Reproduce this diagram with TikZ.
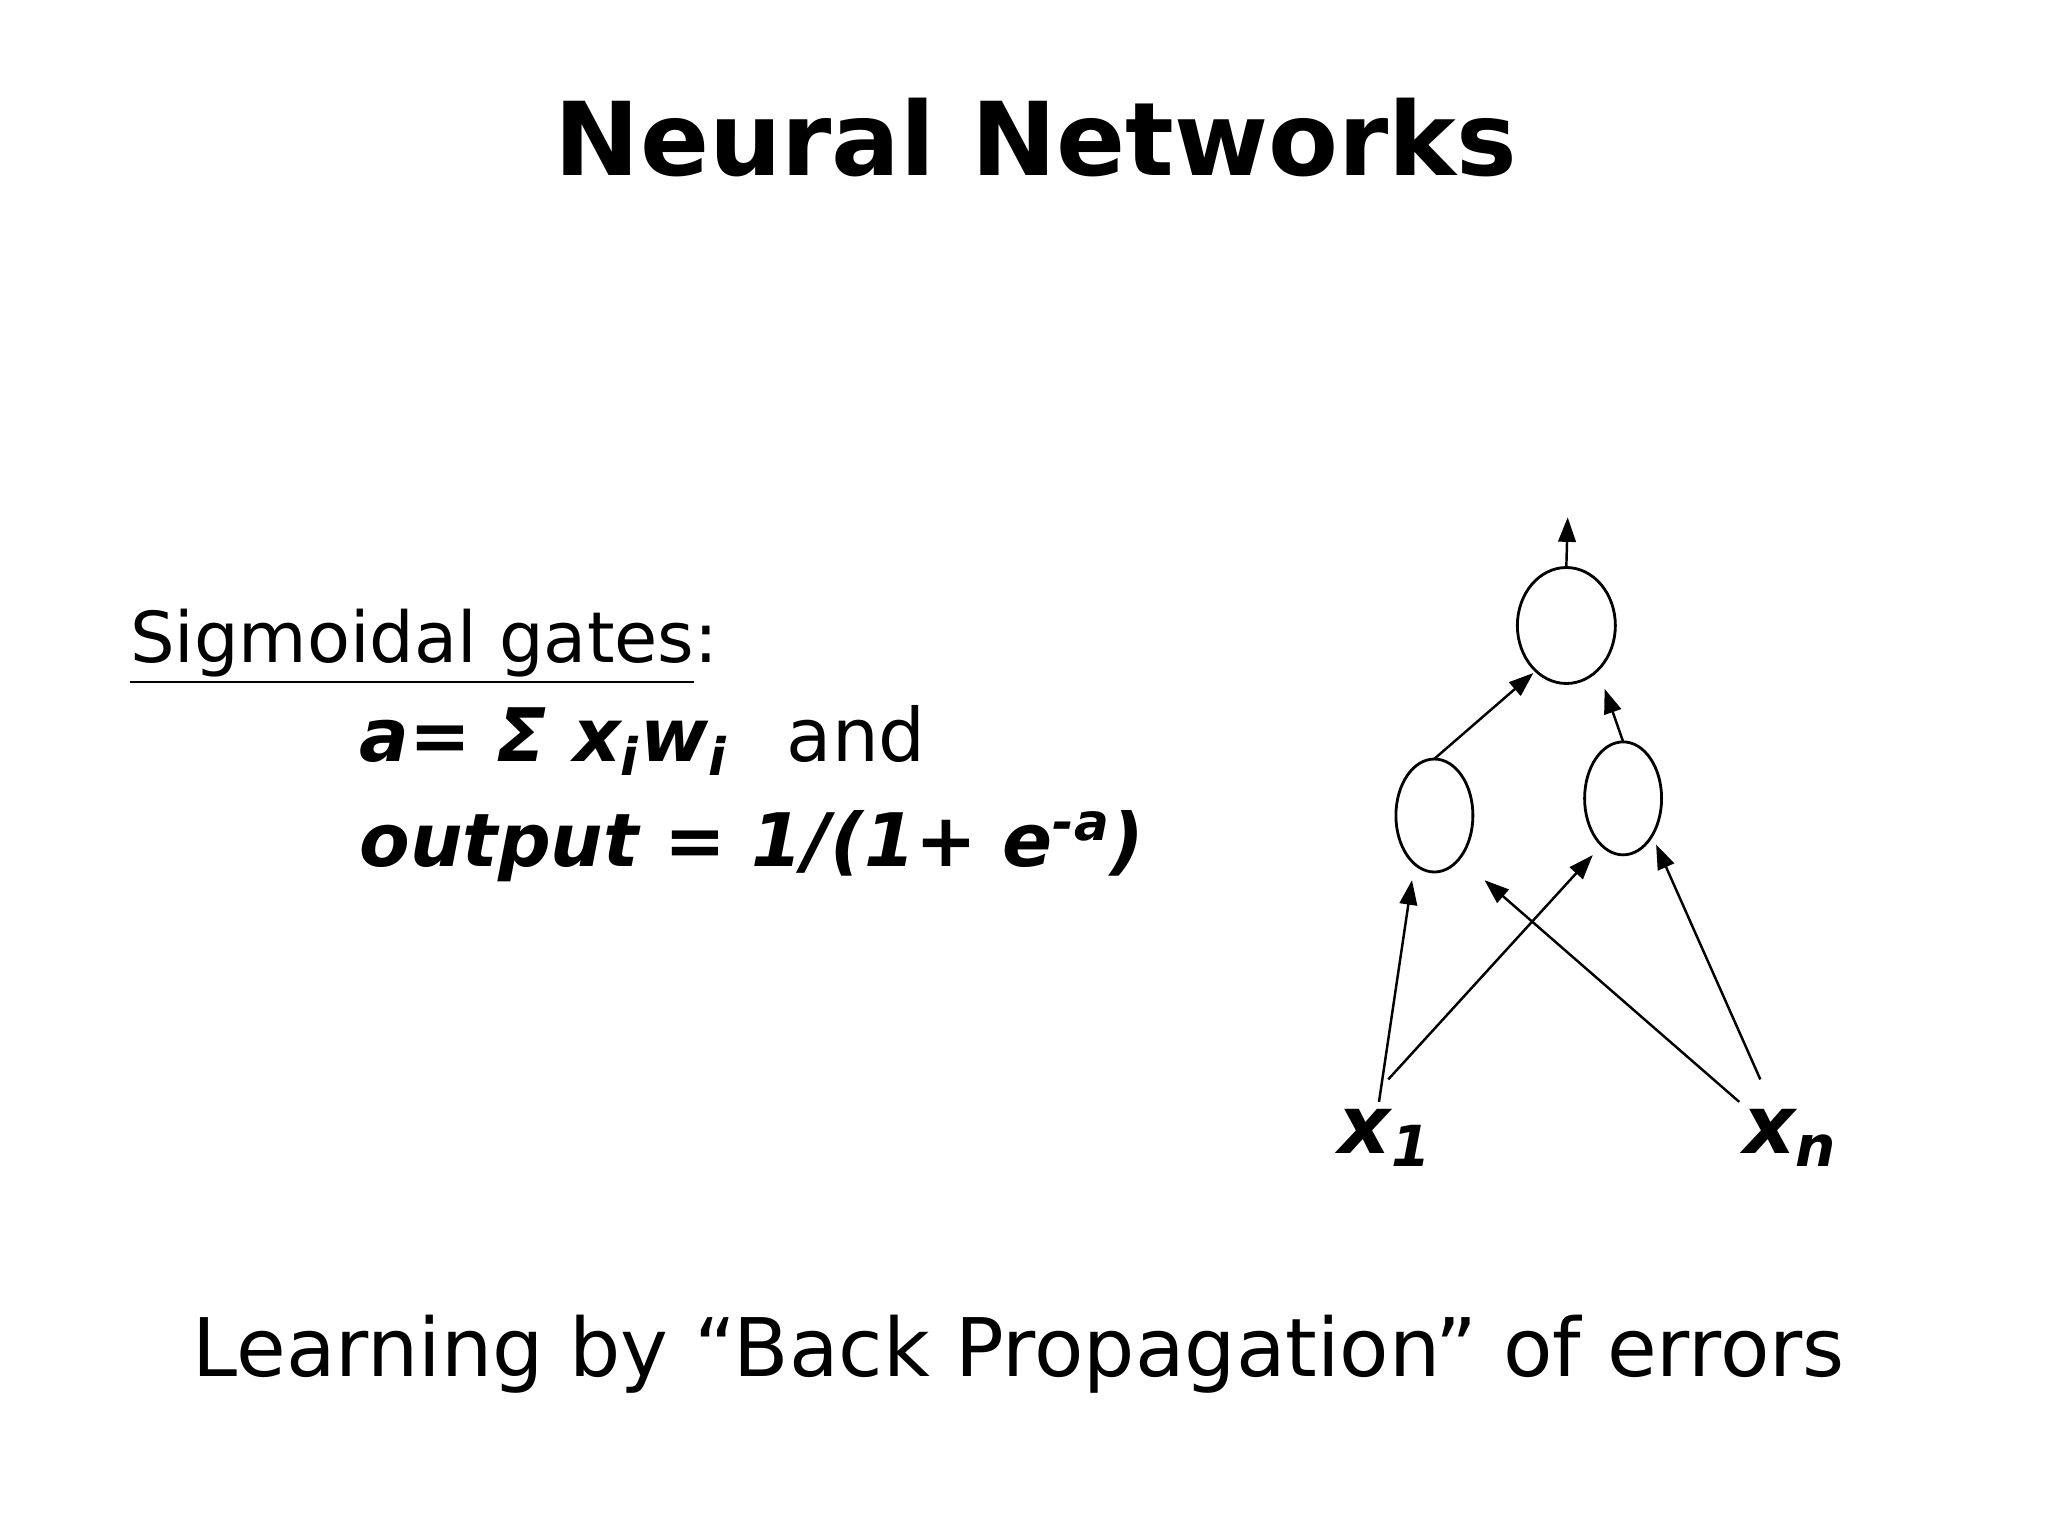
\documentclass[tikz,border=0pt]{standalone}
\usepackage{fontspec}
\setmainfont{DejaVu Sans}
\usetikzlibrary{arrows.meta,shapes.geometric}
\begin{document}
\begin{tikzpicture}[x=0.0132cm,y=-0.0132cm,
  neuron/.style={draw,ellipse,line width=0.8pt,inner sep=0pt},
  conn/.style={-{Triangle[length=7pt,width=5pt]},line width=0.7pt},
  txt/.style={inner sep=0pt}]
\useasboundingbox (0,0) rectangle (1552,1164);
\node[txt,anchor=base,font=\fontsize{29}{34}\selectfont\bfseries] (title) at (785,133) {Neural Networks};
\node[txt,anchor=base west,font=\fontsize{20}{24}\selectfont] (sig) at (98,502) {\underline{Sigmoidal gates}:};
\node[txt,anchor=base west,font=\fontsize{21}{25}\selectfont] (eq1) at (272,577) {\textbf{\textit{a= Σ x\textsubscript{i}w\textsubscript{i}}}\hspace{0.8em}and};
\node[txt,anchor=base west,font=\fontsize{21}{25}\selectfont] (eq2) at (272,657) {\textbf{\textit{output = 1/(1+ e\textsuperscript{-a})}}};
\node[txt,anchor=base,font=\fontsize{23}{28}\selectfont] (learn) at (772,1043) {Learning by “Back Propagation” of errors};
\node[neuron,minimum width=0.98cm,minimum height=1.16cm] (top) at (1187,474) {};
\node[neuron,minimum width=0.77cm,minimum height=1.13cm] (left) at (1087,618) {};
\node[neuron,minimum width=0.77cm,minimum height=1.13cm] (right) at (1230,605) {};
\node[txt,font=\fontsize{23}{28}\selectfont\bfseries\itshape] (x1) at (1050,862) {x\textsubscript{1}};
\node[txt,font=\fontsize{23}{28}\selectfont\bfseries\itshape] (xn) at (1357,862) {x\textsubscript{n}};
\coordinate (out) at (1188,392);
\coordinate (a1) at (1045,835); \coordinate (a1t) at (1070,667);
\coordinate (a2) at (1052,818); \coordinate (a2t) at (1207,648);
\coordinate (b1) at (1318,835); \coordinate (b1t) at (1125,667);
\coordinate (b2) at (1334,818); \coordinate (b2t) at (1255,640);
\coordinate (lt) at (1087,575); \coordinate (lt2) at (1162,510);
\coordinate (rt) at (1230,562); \coordinate (rt2) at (1216,522);
\draw[conn] (top.north) -- (out);
\draw[conn] (lt) -- (lt2);
\draw[conn] (rt) -- (rt2);
\draw[conn] (a1) -- (a1t);
\draw[conn] (a2) -- (a2t);
\draw[conn] (b1) -- (b1t);
\draw[conn] (b2) -- (b2t);
\end{tikzpicture}
\end{document}
